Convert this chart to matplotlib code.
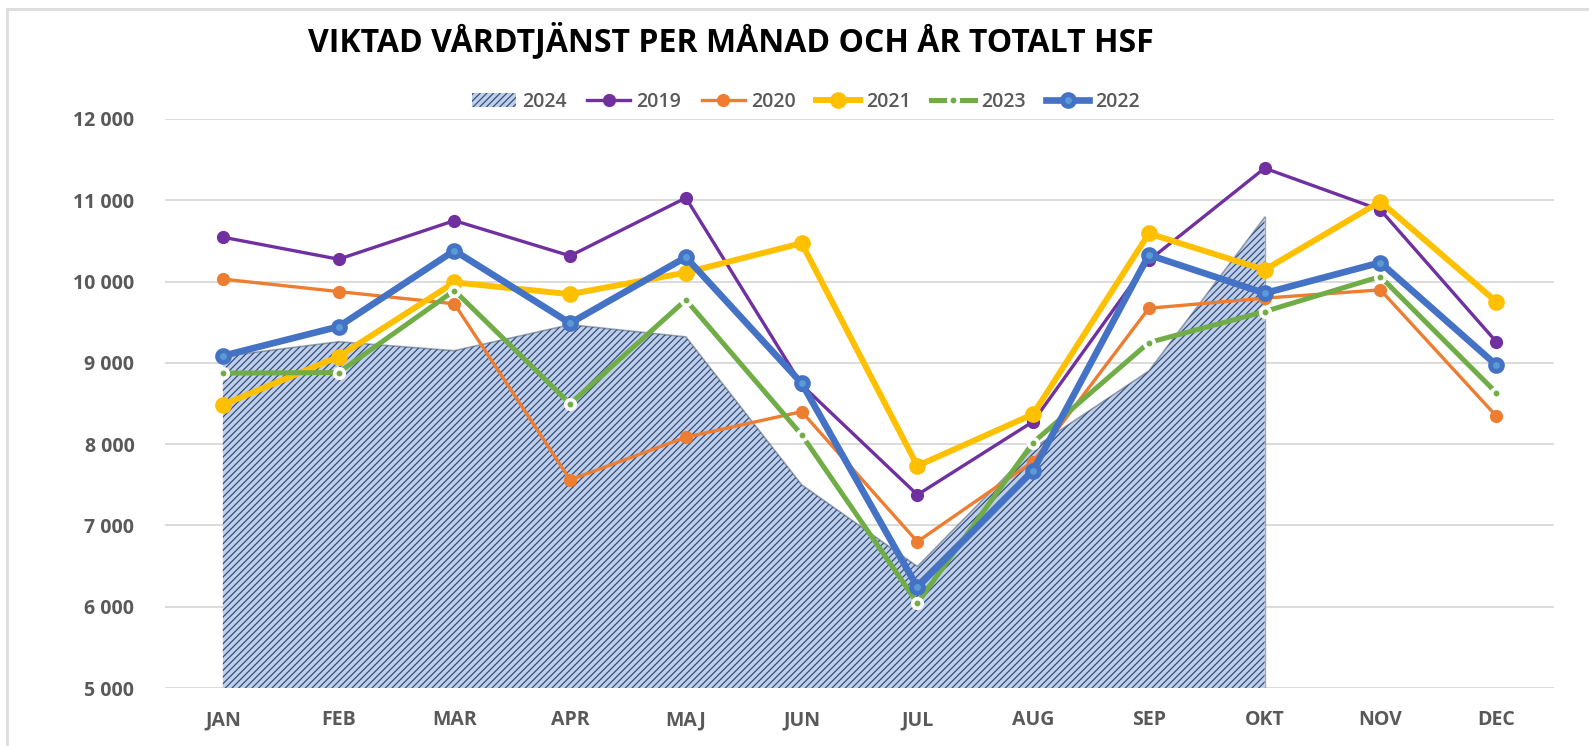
import matplotlib
matplotlib.use("Agg")
import matplotlib.pyplot as plt
from matplotlib.patches import Patch
from matplotlib.lines import Line2D
from matplotlib.legend_handler import HandlerTuple

months = ["JAN", "FEB", "MAR", "APR", "MAJ", "JUN", "JUL", "AUG", "SEP", "OKT", "NOV", "DEC"]
y2024 = [9080, 9260, 9150, 9470, 9320, 7500, 6495, 7950, 8900, 10790]
y2019 = [10546, 10275, 10750, 10316, 11030, 8730, 7377, 8278, 10260, 11395, 10882, 9262]
y2020 = [10030, 9877, 9726, 7561, 8085, 8400, 6800, 7786, 9672, 9796, 9898, 8348]
y2021 = [8483, 9077, 9990, 9845, 10111, 10472, 7733, 8369, 10592, 10144, 10984, 9754]
y2023 = [8873, 8881, 9890, 8496, 9775, 8115, 6045, 8020, 9250, 9631, 10062, 8635]
y2022 = [9086, 9446, 10381, 9488, 10300, 8750, 6240, 7675, 10328, 9857, 10234, 8975]
yticks = [5000, 6000, 7000, 8000, 9000, 10000, 11000, 12000]
ytick_labels = ["5 000", "6 000", "7 000", "8 000", "9 000", "10 000", "11 000", "12 000"]
title = "VIKTAD VÅRDTJÄNST PER MÅNAD OCH ÅR TOTALT HSF"

plt.rcParams['font.family'] = ['Open Sans', 'DejaVu Sans']
plt.rcParams['hatch.linewidth'] = 0.9
plt.rcParams['hatch.color'] = '#34507f'

W, H = 1589, 746
fig = plt.figure(figsize=(W / 100, H / 100), dpi=100)
ax = fig.add_axes([165 / W, 1 - 688 / H, (1554 - 165) / W, (688 - 119) / H])

x = list(range(len(months)))
xa = x[:len(y2024)]

area_face = '#bfcfea'
ax.fill_between(xa, y2024, 5000, facecolor=area_face, hatch='/////',
                edgecolor='#34507f', linewidth=0, zorder=2)
ax.plot(xa, y2024, color='#44546a', lw=1.2, alpha=0.5, zorder=2)
ax.plot([xa[-1], xa[-1]], [5000, y2024[-1]], color='#44546a', lw=1.0, alpha=0.5, zorder=2)

l19, = ax.plot(x, y2019, color='#7030a0', lw=2.4, marker='o', ms=8.5, mec='#7030a0', mfc='#7030a0', zorder=3)
l20, = ax.plot(x, y2020, color='#ed7d31', lw=2.4, marker='o', ms=8.5, mec='#ed7d31', mfc='#ed7d31', zorder=4)
l21, = ax.plot(x, y2021, color='#ffc000', lw=4.3, marker='o', ms=11, mec='#ffc000', mfc='#ffc000', zorder=5)
l23, = ax.plot(x, y2023, color='#70ad47', lw=3.6, marker='o', ms=9.5, mec='white', mfc='white', mew=0, zorder=6)
l23d, = ax.plot(x, y2023, color='#70ad47', lw=0, marker='o', ms=3.2, mec='#70ad47', mfc='#70ad47', zorder=6.5)
l22, = ax.plot(x, y2022, color='#4472c4', lw=4.8, marker='o', ms=8.5, mec='#4472c4', mfc='#5b9bd5', mew=3.5, zorder=7)

ax.set_xlim(-0.5, len(months) - 0.5)
ax.set_ylim(5000, 12000)
ax.set_yticks(yticks)
ax.set_yticklabels(ytick_labels)
ax.set_xticks(x)
ax.set_xticklabels(months)
ax.grid(axis='y', color='#d9d9d9', lw=1.3, zorder=0)
ax.set_axisbelow(True)
for s in ax.spines.values():
    s.set_visible(False)
ax.tick_params(axis='both', length=0, colors='#595959')
ax.tick_params(axis='y', pad=22)
ax.tick_params(axis='x', pad=16)
for lab in ax.get_yticklabels() + ax.get_xticklabels():
    lab.set_fontsize(14)
    lab.set_fontweight('bold')
    lab.set_color('#595959')

fig.text(731 / W, 1 - 41 / H, title, ha='center', va='center', fontsize=23,
         fontweight='bold', color='black')

p24 = Patch(facecolor=area_face, hatch='/////', edgecolor='#34507f', linewidth=0)
handles = [p24, l19, l20, l21, (l23, l23d), l22]
labels = ["2024", "2019", "2020", "2021", "2023", "2022"]
leg = fig.legend(handles, labels, loc='center', bbox_to_anchor=(806 / W, 1 - 102 / H),
                 ncol=6, frameon=False, handlelength=2.25, handletextpad=0.3,
                 columnspacing=1.05, fontsize=14, borderpad=0,
                 handler_map={tuple: HandlerTuple(ndivide=1, pad=0)})
for t in leg.get_texts():
    t.set_color('#595959')
    t.set_fontweight('semibold')

# frame border lines (top and left)
fig.add_artist(Line2D([7 / W, 1], [1 - 8.5 / H, 1 - 8.5 / H], color='#dedede', lw=2.2))
fig.add_artist(Line2D([7 / W, 7 / W], [0, 1 - 8.5 / H], color='#dedede', lw=2.0))

fig.savefig('out.png', dpi=100)
